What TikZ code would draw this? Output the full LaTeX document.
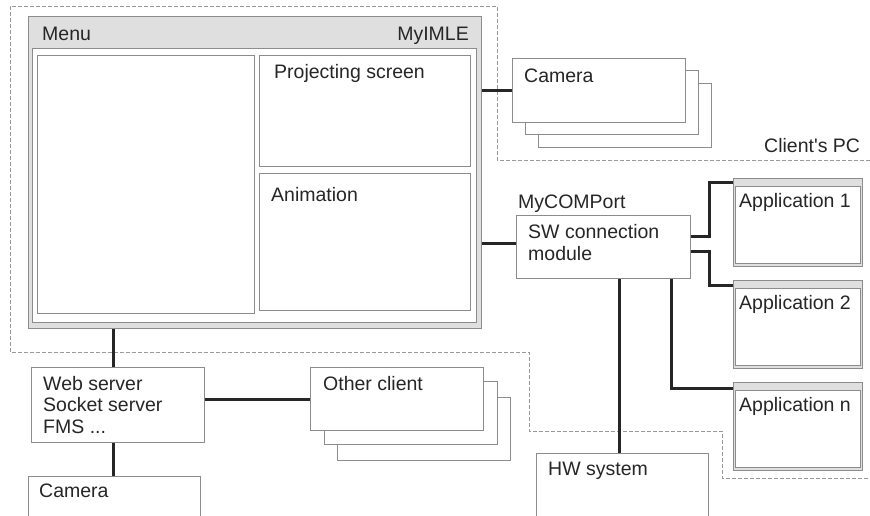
\documentclass[tikz,border=0pt]{standalone}
\usepackage{fontspec}
\setmainfont{Liberation Sans}[Ligatures=TeXOff]
\tikzset{
  box/.style={draw=gray!90, fill=white, line width=1pt, anchor=north west, inner sep=0pt},
  sz/.style 2 args={minimum width=#1pt, minimum height=#2pt},
  bar/.style={box, fill=gray!25},
  lbl/.style={anchor=base west, inner sep=0pt, align=left, font=\fontsize{19.5}{21.5}\selectfont, text=black!85},
  conn/.style={line width=3pt, black!85},
  zone/.style={gray!80, dash pattern=on 4pt off 2pt, line width=0.8pt}
}
\begin{document}
\begin{tikzpicture}[x=1pt,y=-1pt]
\useasboundingbox (0,0) rectangle (870,515);
% client's PC
\draw[zone] (870,160) -- (497,160) -- (497,6) -- (10,6) -- (10,352) -- (529,352)
  -- (529,431) -- (722,431) -- (722,478) -- (870,478);
\node[lbl] (tpc) at (764,152) {Client's PC};

% MyIMLE window
\node[bar, sz={453}{312}] (imle) at (28,16) {};
\node[box, sz={444}{274}] (imlein) at (32,48) {};
\node[box, sz={217}{258}] (pane) at (37,55) {};
\node[box, sz={211}{111}] (proj) at (259,55) {};
\node[box, sz={211}{137}] (anim) at (259,173) {};
\node[lbl] (tmenu) at (42,40) {Menu};
\node[lbl, anchor=base east] (timle) at (469,40) {MyIMLE};
\node[lbl] (tproj) at (274,78) {Projecting screen};
\node[lbl] (tanim) at (271,201) {Animation};

% cameras
\foreach \i/\dx/\dy in {3/26/25, 2/13/12, 1/0/0}
  \node[box, sz={173}{64}] (cam\i) at (512+\dx,58+\dy) {};
\node[lbl] (tcam) at (524,82) {Camera};

% MyCOMPort
\node[box, sz={174}{63}] (sw) at (516,215) {};
\node[lbl] (tcom) at (518,208) {MyCOMPort};
\node[lbl, font=\fontsize{19.5}{22}\selectfont] (tsw) at (528,260) {SW connection\\module};

% applications
\foreach \n/\y/\t in {1/178/Application 1, 2/280/Application 2, n/382/Application n}{
  \node[bar, sz={129}{88}] (app\n) at (733,\y) {};
  \node[box, sz={125}{77}] (appin\n) at (735,\y+8) {};
  \node[lbl] (tapp\n) at (739,\y+29) {\t};
}

\node[box, sz={172}{80}] (hw) at (536,453) {};
\node[lbl] (thw) at (548,475) {HW system};

% servers
\node[box, sz={173}{75}] (web) at (31,367) {};
\node[lbl] (tweb) at (43,433) {Web server\\Socket server\\FMS ...};
\node[box, sz={172}{60}] (cam0) at (28,476) {};
\node[lbl] (tcam0) at (39,497) {Camera};

\foreach \i/\dx/\dy in {3/27/30, 2/14/14, 1/0/0}
  \node[box, sz={173}{63}] (oth\i) at (310+\dx,367+\dy) {};
\node[lbl] (toth) at (323,390) {Other client};

% links
\draw[conn] (cam1.west) -- (cam1.west -| imle.east);
\draw[conn] ([yshift=4pt]sw.west) -- ([yshift=4pt]sw.west -| imle.east);
\draw[conn] ([yshift=11pt]sw.east) -- ++(18pt,0) |- ([yshift=40pt]app1.west);
\draw[conn] ([yshift=-4pt]sw.east) -- ++(18pt,0) |- ([yshift=39pt]app2.west);
\draw[conn] ([xshift=68pt]sw.south) |- ([yshift=38pt]appn.west);
\draw[conn] ([xshift=16pt]sw.south) -- ([xshift=16pt]sw.south |- hw.north);
\draw[conn] ([xshift=-5pt]web.north) -- ([xshift=-5pt]web.north |- imle.south);
\draw[conn] ([xshift=-5pt]web.south) -- ([xshift=-5pt]web.south |- cam0.north);
\draw[conn] ([yshift=6pt]web.east) -- ([yshift=6pt]web.east -| oth1.west);
\end{tikzpicture}
\end{document}
